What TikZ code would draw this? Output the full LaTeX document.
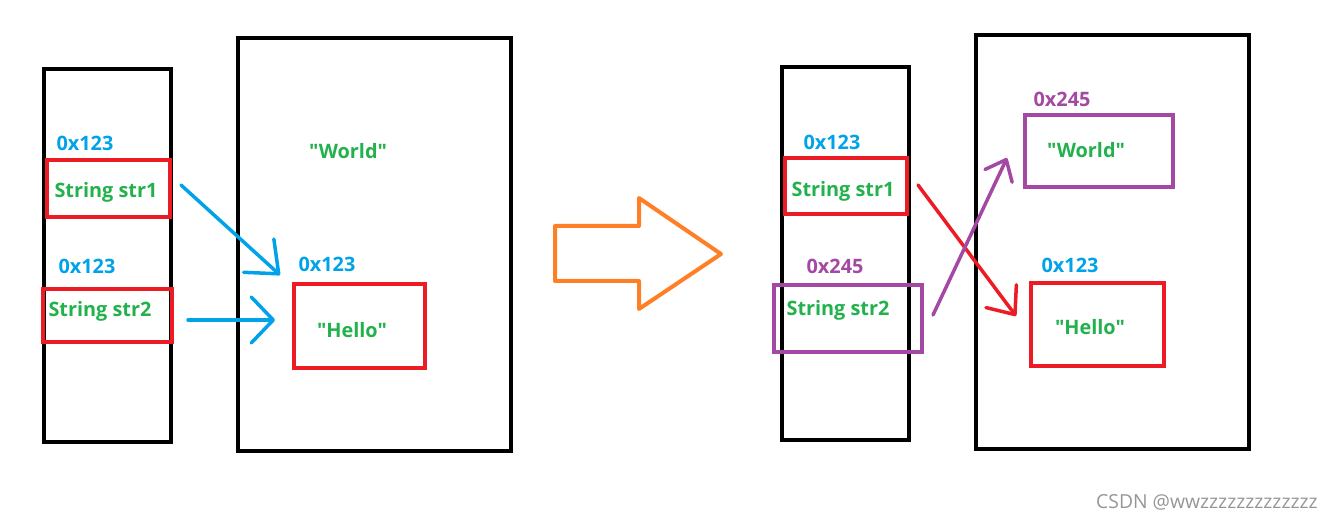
\documentclass[tikz,border=0pt]{standalone}
\usepackage{fontspec}
\setmainfont{Open Sans}[Ligatures=TeXOff]
\usetikzlibrary{arrows.meta}
\definecolor{pgreen}{RGB}{34,177,76}
\definecolor{pblue}{RGB}{0,162,232}
\definecolor{pred}{RGB}{237,28,36}
\definecolor{ppurple}{RGB}{163,73,164}
\definecolor{porange}{RGB}{255,127,39}
\definecolor{pgray}{RGB}{150,150,150}
\tikzset{
  mem/.style={draw=black, line width=4*0.02cm},
  cell/.style={draw=#1, line width=4*0.02cm},
  val/.style={text=pgreen, font=\fontsize{11.3}{13}\selectfont\bfseries, inner sep=0pt},
  addr/.style={text=#1, font=\fontsize{11.3}{13}\selectfont\bfseries, inner sep=0pt},
  link/.style={draw=#1, line width=3.5*0.02cm, line cap=round},
}
\begin{document}
\begin{tikzpicture}[x=0.02cm,y=-0.02cm]
\useasboundingbox (0,0) rectangle (1330,520);
% ---------- left: before ----------
\draw[mem] (44,69) rectangle (171,442);
\draw[mem] (238,38) rectangle (511,451);
\draw[cell=pred] (47,160) rectangle (170,217);
\draw[cell=pred] (43,289) rectangle (172,342);
\draw[cell=pred] (294,284) rectangle (425,368);
\node[addr=pblue] (la1) at (85,143) {0x123};
\node[addr=pblue] (la2) at (87,266) {0x123};
\node[val] (ls1) at (106,192) {String str1};
\node[val] (ls2) at (100,311) {String str2};
\node[val] (lw) at (348,151) {"World"};
\node[addr=pblue] (la3) at (327,264) {0x123};
\node[val] (lh) at (352,330) {"Hello"};
\coordinate (b1s) at (181,185);
\coordinate (b1e) at (280,275);
\coordinate (b2s) at (188,320);
\coordinate (b2e) at (275,320);
\draw[link=pblue, -{Straight Barb[length=0.54cm,width=0.9cm,round]}] (b1s) -- (b1e);
\draw[link=pblue, -{Straight Barb[length=0.44cm,width=0.92cm,round]}] (b2s) -- (b2e);
% ---------- big orange arrow ----------
\draw[draw=porange, line width=4*0.02cm, line join=round]
  (555,226) -- (639,226) -- (639,198) -- (721,254) -- (639,309) -- (639,281) -- (555,281) -- cycle;
% ---------- right: after ----------
\draw[mem] (782,67) rectangle (909,440);
\draw[mem] (976,35) rectangle (1249,449);
\draw[cell=pred] (785,158) rectangle (907,214);
\draw[cell=ppurple] (774,285) rectangle (922,352);
\draw[cell=ppurple] (1025,115) rectangle (1173,187);
\draw[cell=pred] (1031,283) rectangle (1164,366);
\node[addr=pblue] (ra1) at (832,142) {0x123};
\node[addr=ppurple] (ra2) at (835,266) {0x245};
\node[val] (rs1) at (843,191) {String str1};
\node[val] (rs2) at (838,310) {String str2};
\node[addr=ppurple] (ra3) at (1062,99) {0x245};
\node[val] (rw) at (1086,150) {"World"};
\node[addr=pblue] (ra4) at (1070,265) {0x123};
\node[val] (rh) at (1090,327) {"Hello"};
\coordinate (rrs) at (918,185);
\coordinate (rre) at (1016,316);
\coordinate (rps) at (933,315);
\coordinate (rpe) at (1007,158);
\draw[link=pred, -{Straight Barb[length=0.46cm,width=0.76cm,round]}] (rrs) -- (rre);
\draw[link=ppurple, -{Straight Barb[length=0.36cm,width=0.6cm,round]}] (rps) -- (rpe);
% ---------- watermark ----------
\node[text=pgray, font=\fontsize{11}{13}\selectfont, anchor=east, inner sep=0pt] (wm) at (1318,502) {CSDN @wwzzzzzzzzzzzzz};
\end{tikzpicture}
\end{document}
